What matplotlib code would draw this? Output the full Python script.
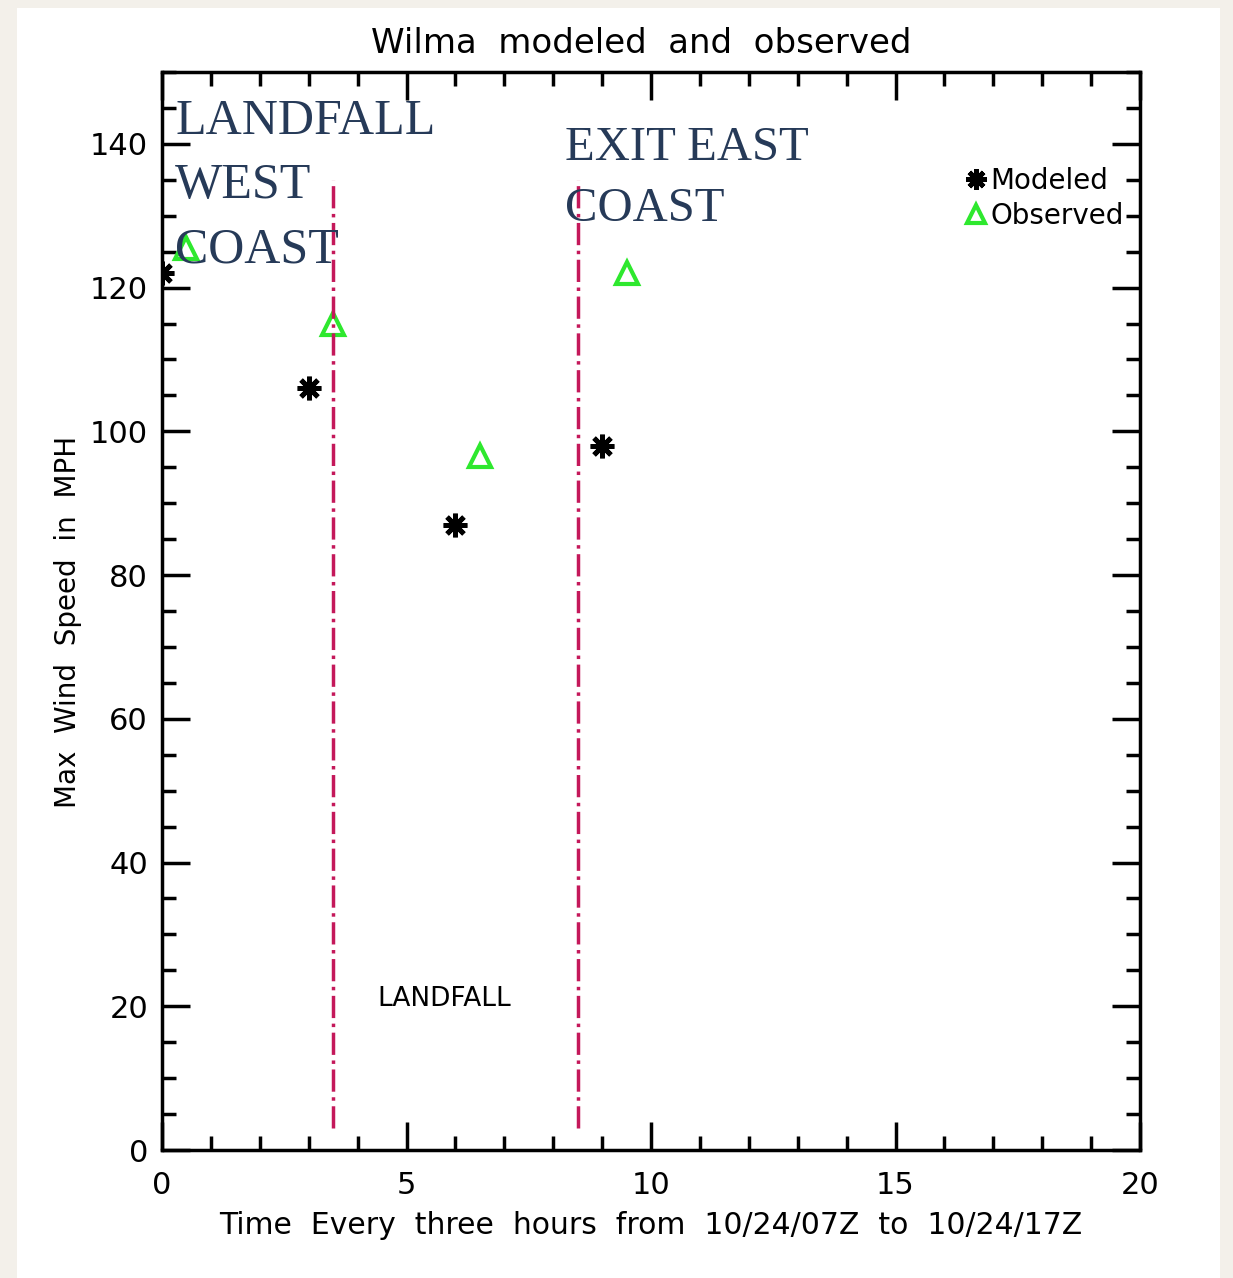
import numpy as np
import matplotlib
matplotlib.use('Agg')
import matplotlib.pyplot as plt
from matplotlib.ticker import MultipleLocator

# data
modeledX = [0, 3, 6, 9]
modeledY = [122, 106, 87, 98]
observedX = [0.5, 3.5, 6.5, 9.5]
observedY = [125.5, 115, 96.5, 122]
eventX = [3.5, 8.5]  # landfall / exit lines
xTicks = [0, 5, 10, 15, 20]
yTicks = [0, 20, 40, 60, 80, 100, 120, 140]

plt.rcParams['font.family'] = ['DejaVu Sans']

fig = plt.figure(figsize=(12.33, 12.78), dpi=100)
fig.patch.set_facecolor('#f3f0ea')
# white card behind the plot
card = fig.add_axes([17/1233, 0, (1220-17)/1233, (1278-8)/1278])
card.set_facecolor('white')
card.set_xticks([])
card.set_yticks([])
for s in card.spines.values():
    s.set_visible(False)
card.set_zorder(-1)

ax = fig.add_axes([162/1233, 128/1278, 978/1233, 1078/1278])
ax.set_facecolor('white')

ax.plot(modeledX, modeledY, linestyle='none', marker=(8, 2, 0), markersize=17,
        markeredgewidth=3.5, color='black', label='Modeled')
ax.plot(observedX, observedY, linestyle='none', marker='^', markersize=16,
        markeredgewidth=3, markerfacecolor='none', markeredgecolor='#2ee82e',
        label='Observed')

for xv in eventX:
    ax.plot([xv, xv], [3, 135], color='#c4185a', linestyle='-.', linewidth=2.5)

ax.set_xlim(0, 20)
ax.set_ylim(0, 150)
ax.set_xticks(xTicks)
ax.set_yticks(yTicks)
ax.xaxis.set_minor_locator(MultipleLocator(1))
ax.yaxis.set_minor_locator(MultipleLocator(5))
ax.tick_params(which='both', direction='in', top=True, right=True, width=2.5,
               labelsize=22)
ax.tick_params(axis='x', pad=15)
ax.tick_params(axis='y', pad=10)
ax.tick_params(which='major', length=20)
ax.tick_params(which='minor', length=10)
for s in ax.spines.values():
    s.set_linewidth(2.5)

ax.set_title('Wilma  modeled  and  observed', fontsize=24.5, pad=14, x=0.49)
ax.set_xlabel('Time  Every  three  hours  from  10/24/07Z  to  10/24/17Z',
              fontsize=21.5, labelpad=8)
ax.set_ylabel('Max  Wind  Speed  in  MPH', fontsize=20, labelpad=6, y=0.49)

ax.text(4.4, 21, 'LANDFALL', fontsize=19, ha='left', va='center')

serif = ['Liberation Serif', 'DejaVu Serif']
ax.text(0.27, 146.3, 'LANDFALL\nWEST\nCOAST', fontsize=36, family=serif,
        color='#263a58', ha='left', va='top', linespacing=1.5)
ax.text(8.25, 142.5, 'EXIT EAST\nCOAST', fontsize=35, family=serif,
        color='#263a58', ha='left', va='top', linespacing=1.5)

ax.legend(loc='upper right', bbox_to_anchor=(1.003, 0.93), frameon=False,
          fontsize=20, handlelength=0.5, handletextpad=0.25, labelspacing=0.25,
          borderaxespad=0.3, markerscale=0.85)

plt.savefig('out.png', dpi=100, facecolor=fig.get_facecolor())
